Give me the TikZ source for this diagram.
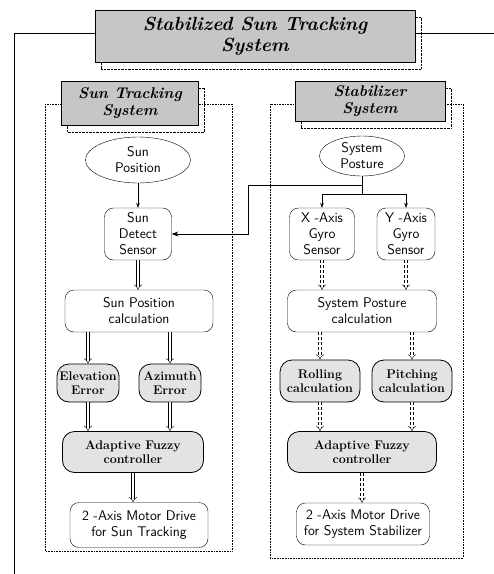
\documentclass[tikz,border=0pt]{standalone}
\usepackage{tikz}
\usetikzlibrary{shapes.geometric, arrows.meta, shadows}
\tikzstyle{header} = [rectangle, draw=black, fill=gray!45,
  align=center, inner sep=1pt,
  drop shadow={shadow xshift=6pt, shadow yshift=-7pt, fill=none,
    draw=black, densely dotted, opacity=1}]
\tikzstyle{groupframe} = [densely dotted, line width=0.6pt]
\tikzstyle{sourcenode} = [ellipse, draw=black, align=center, inner sep=0pt,
  font=\sffamily\fontsize{14}{16}\selectfont]
\tikzstyle{procbox} = [rectangle, rounded corners=9pt, draw=black, align=center,
  inner sep=1pt, font=\sffamily\fontsize{14}{16}\selectfont]
\tikzstyle{calcbox} = [rectangle, rounded corners=12pt, draw=black, thick,
  fill=gray!22, align=center, inner sep=2pt,
  font=\rmfamily\bfseries\fontsize{12.5}{14}\selectfont]
\tikzstyle{dblarrow} = [double, double distance=2.4pt, -{Implies}]
\tikzstyle{fadedarrow} = [dblarrow, densely dashed]

\begin{document}
\begin{tikzpicture}[x=1pt, y=-1pt, >=Stealth]
  \useasboundingbox (0,0) rectangle (494,574);

  % dotted frames of the two subsystems
  \draw[groupframe] (45,104) rectangle (232,551);
  \draw[groupframe] (270,104) rectangle (463,558);

  % headers
  \node[header, minimum width=320, minimum height=52,
    font=\rmfamily\bfseries\itshape\fontsize{19}{21}\selectfont]
    (title) at (255,36) {Stabilized Sun Tracking\\System};
  \node[header, minimum width=137, minimum height=44,
    font=\rmfamily\bfseries\itshape\fontsize{15.5}{17}\selectfont]
    (sthead) at (130,103) {Sun Tracking\\System};
  \node[header, minimum width=150, minimum height=40,
    font=\rmfamily\bfseries\itshape\fontsize{15.5}{17}\selectfont]
    (sbhead) at (370,101) {Stabilizer\\System};

  \coordinate (leftend) at (14,574);
  \coordinate (rightend) at (494,33);
  \draw[thick] ([yshift=3pt]title.west) -| (leftend);
  \draw[thick] ([yshift=3pt]title.east) -- (rightend);

  % sun tracking system
  \node[sourcenode, minimum width=105, minimum height=46] (sunpos) at (138,160) {Sun\\Position};
  \node[procbox, minimum width=67, minimum height=52] (sundet) at (138,234) {Sun\\Detect\\Sensor};
  \node[procbox, minimum width=148, minimum height=42] (suncalc) at (139,311) {Sun Position\\calculation};
  \node[calcbox, minimum width=62, minimum height=38] (elev) at (88,383) {Elevation\\Error};
  \node[calcbox, minimum width=62, minimum height=38] (azim) at (170,383) {Azimuth\\Error};
  \node[calcbox, minimum width=141, minimum height=41] (fuzzyL) at (133,452) {Adaptive Fuzzy\\controller};
  \node[procbox, minimum width=138, minimum height=45] (motorL) at (139,525) {2 -Axis Motor Drive\\for Sun Tracking};

  % stabilizer system
  \node[sourcenode, minimum width=85, minimum height=40] (syspos) at (362,156) {System\\Posture};
  \node[procbox, minimum width=65, minimum height=52] (xgyro) at (322,234) {X -Axis\\Gyro\\Sensor};
  \node[procbox, minimum width=58, minimum height=52] (ygyro) at (406,234) {Y -Axis\\Gyro\\Sensor};
  \node[procbox, minimum width=149, minimum height=42] (syscalc) at (362,311) {System Posture\\calculation};
  \node[calcbox, minimum width=80, minimum height=42] (roll) at (320,381) {Rolling\\calculation};
  \node[calcbox, minimum width=80, minimum height=42] (pitch) at (412,381) {Pitching\\calculation};
  \node[calcbox, minimum width=149, minimum height=41] (fuzzyR) at (362,452) {Adaptive Fuzzy\\controller};
  \node[procbox, minimum width=133, minimum height=42] (motorR) at (363,524) {2 -Axis Motor Drive\\for System Stabilizer};

  % posture signal
  \coordinate (split) at (362,185);
  \coordinate (fork) at (362,194);
  \coordinate (bend) at (248,185);
  \draw[->] (sunpos) -- (sundet);
  \draw[thick] (syspos.south) -- (fork);
  \draw[thick, ->] (split) -- (bend) |- (sundet.east);
  \draw[->] (fork) -| (xgyro.north);
  \draw[->] (fork) -| (ygyro.north);

  % data flow
  \draw[dblarrow] (sundet.south) -- (sundet.south |- suncalc.north);
  \draw[dblarrow] (elev.north |- suncalc.south) -- (elev.north);
  \draw[dblarrow] (azim.north |- suncalc.south) -- (azim.north);
  \draw[dblarrow] (elev.south) -- (elev.south |- fuzzyL.north);
  \draw[dblarrow] (azim.south) -- (azim.south |- fuzzyL.north);
  \draw[dblarrow] (fuzzyL.south) -- (fuzzyL.south |- motorL.north);

  \draw[fadedarrow] (xgyro.south) -- (xgyro.south |- syscalc.north);
  \draw[fadedarrow] (ygyro.south) -- (ygyro.south |- syscalc.north);
  \draw[fadedarrow] (roll.north |- syscalc.south) -- (roll.north);
  \draw[fadedarrow] (pitch.north |- syscalc.south) -- (pitch.north);
  \draw[fadedarrow] (roll.south) -- (roll.south |- fuzzyR.north);
  \draw[fadedarrow] (pitch.south) -- (pitch.south |- fuzzyR.north);
  \draw[fadedarrow] (fuzzyR.south) -- (fuzzyR.south |- motorR.north);
\end{tikzpicture}
\end{document}
